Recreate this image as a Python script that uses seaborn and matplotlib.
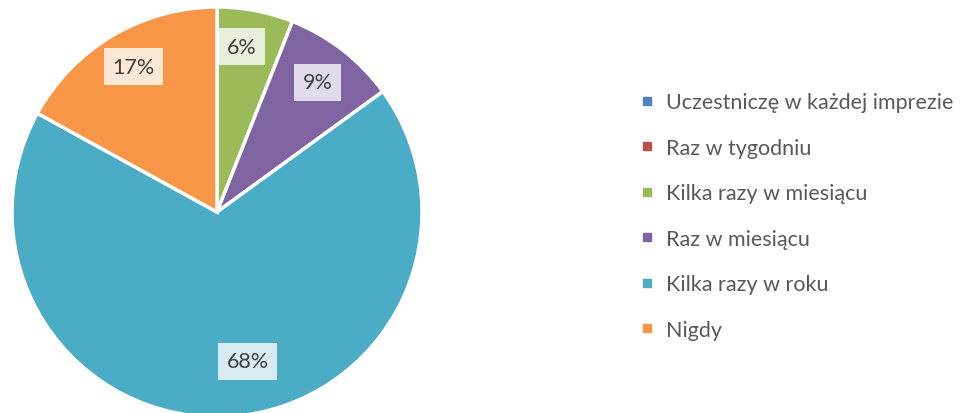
import matplotlib
matplotlib.use("Agg")
import matplotlib.pyplot as plt
from matplotlib.lines import Line2D
import seaborn as sns

categories = ["Uczestniczę w każdej imprezie", "Raz w tygodniu", "Kilka razy w miesiącu",
              "Raz w miesiącu", "Kilka razy w roku", "Nigdy"]
values = [0, 0, 6, 9, 68, 17]
colors = ["#4F81BD", "#C0504D", "#9BBB59", "#8064A2", "#4BACC6", "#F79646"]

sns.set_theme(style="white")
plt.rcParams["font.family"] = ["Lato", "DejaVu Sans"]
palette = sns.color_palette(colors)

fig = plt.figure(figsize=(9.6, 4.14), dpi=100)
W, H = 960, 414
cx, cy, R = 217, 213, 205
ax = fig.add_axes([(cx - R) / W, (H - cy - R) / H, 2 * R / W, 2 * R / H])

def fmt(p):
    return f"{p:.0f}%" if p >= 0.5 else ""

wedges, texts, autotexts = ax.pie(
    values, colors=palette, startangle=90, counterclock=False,
    autopct=fmt, pctdistance=0.8, radius=1,
    wedgeprops=dict(edgecolor="white", linewidth=2.5),
    textprops=dict(fontsize=15.5, color="#404040"),
)
for t in autotexts:
    if t.get_text():
        t.set_bbox(dict(facecolor="white", alpha=0.78, edgecolor="none", boxstyle="square,pad=0.4"))
# nudge labels to match reference placement
nudges = {"6%": (-0.03, 0.02), "17%": (0.0, 0.02), "68%": (0.1, 0.07)}
for t in autotexts:
    if t.get_text() in nudges:
        x, y = t.get_position()
        dx, dy = nudges[t.get_text()]
        t.set_position((x + dx, y + dy))
ax.set_xlim(-1, 1)
ax.set_ylim(-1, 1)
ax.set_aspect("equal")
ax.axis("off")

handles = [Line2D([0], [0], marker="s", linestyle="none", markersize=6,
                  markerfacecolor=c, markeredgecolor=c) for c in palette]
fig.legend(handles, categories, loc="center left", bbox_to_anchor=(641 / W, (H - 217) / H),
           frameon=False, fontsize=15.5, labelcolor="#595959", handlelength=0.6,
           handletextpad=0.55, labelspacing=1.18, borderaxespad=0, borderpad=0)

fig.savefig("out.png", dpi=100)
